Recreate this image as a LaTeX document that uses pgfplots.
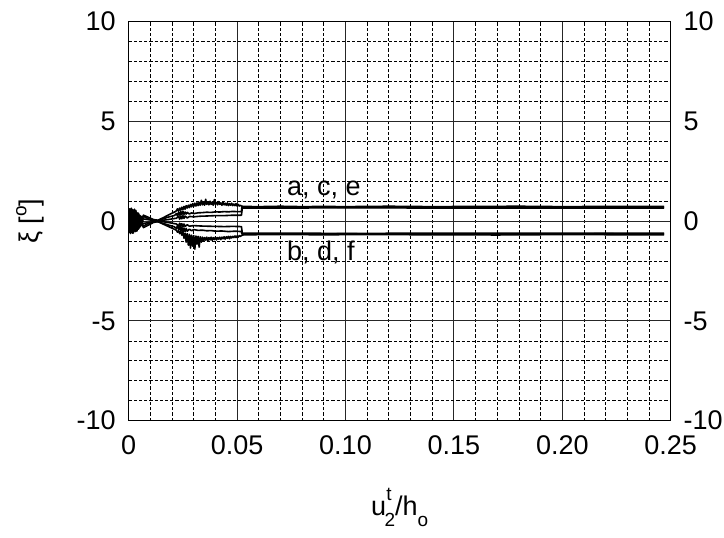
\documentclass[border=0pt]{standalone}
\usepackage{fontspec}
\setmainfont{Liberation Sans}
\usepackage{pgfplots}
\pgfplotsset{compat=1.18}
\begin{document}
\fontsize{13.5}{16}\selectfont
\begin{tikzpicture}
\pgfplotsset{
  common/.style={
    scale only axis, width=271pt, height=199.5pt,
    xmin=0, xmax=0.25, ymin=-10, ymax=10,
    xtick={0,0.05,0.10,0.15,0.20,0.25},
    xticklabels={0,0.05,0.10,0.15,0.20,0.25},
    ytick={-10,-5,0,5,10},
    yticklabels={-10,-5,0,5,10},
    major tick length=0pt, minor tick length=0pt,
    /pgf/number format/assume math mode=true,
    tick label style={font=\fontsize{13.5}{16}\selectfont},
    axis line style={line width=0.7pt},
  },
  dl/.style={black, line width=0.8pt, line join=round},
}
\begin{axis}[common,
  minor xtick={0.01,0.02,0.03,0.04,0.06,0.07,0.08,0.09,0.11,0.12,0.13,0.14,0.16,0.17,0.18,0.19,0.21,0.22,0.23,0.24},
  minor ytick={-9,-8,-7,-6,-4,-3,-2,-1,1,2,3,4,6,7,8,9},
  grid=both,
  major grid style={black!85, line width=0.5pt},
  minor grid style={black, line width=0.4pt, dash pattern=on 1.6pt off 1pt},
  yticklabel style={xshift=-1.8pt},
  xticklabel style={yshift=-2.6pt},
  xlabel={u\raisebox{0.53em}{\fontsize{9.5}{10}\selectfont t}\kern-0.26em\raisebox{-0.42em}{\fontsize{9.5}{10}\selectfont 2}/h\raisebox{-0.42em}{\fontsize{9.5}{10}\selectfont o}},
  ylabel={ξ [\raisebox{0.45em}{\fontsize{9.5}{10}\selectfont o}]},
  xlabel style={at={(axis description cs:0.5,-0.218)}, anchor=center},
  ylabel style={at={(axis description cs:-0.182,0.5)}, anchor=center},
]
\coordinate (ll) at (rel axis cs:0,0);
% initial oscillation
\addplot[dl] coordinates {
(0.0000,0.30)(0.00015,-0.55)(0.0003,0.62)(0.00045,-0.40)(0.0006,0.55)(0.00075,-0.62)(0.0009,0.48)(0.00105,-0.50)(0.0012,0.65)(0.00135,-0.45)(0.0015,0.40)(0.00165,-0.60)(0.0018,0.58)(0.00195,-0.35)(0.0021,0.50)(0.00225,-0.55)(0.0024,0.45)(0.00255,-0.48)(0.0027,0.60)(0.00285,-0.40)(0.0030,0.42)(0.00315,-0.52)(0.0033,0.50)(0.00345,-0.38)(0.0036,0.45)(0.00375,-0.45)(0.0039,0.35)(0.00405,-0.40)(0.0042,0.40)(0.00435,-0.30)(0.0045,0.32)(0.00465,-0.35)(0.0048,0.25)(0.00495,-0.30)(0.0051,0.28)(0.00525,-0.22)(0.0054,0.20)(0.00555,-0.25)(0.0057,0.15)(0.00585,-0.18)(0.0060,0.12)(0.0062,-0.10)(0.0064,0.08)(0.0066,-0.05)
};
% a (upper outer)
\addplot[dl] coordinates {
(0.0000,0.05)(0.0003,0.45)(0.0006,-0.30)(0.0009,0.60)(0.0012,-0.20)(0.0015,0.55)(0.0018,-0.40)(0.0021,0.50)(0.0024,-0.30)(0.0027,0.40)(0.0030,-0.45)(0.0033,0.55)(0.0036,-0.25)(0.0039,0.35)(0.0042,-0.30)(0.0045,0.40)(0.0048,-0.15)(0.0051,0.30)(0.0054,-0.10)(0.0057,0.25)(0.0060,0.05)(0.0068,0.30)(0.0090,0.20)(0.0115,0.08)(0.0135,0.05)(0.0160,0.18)(0.0190,0.35)(0.0215,0.48)
(0.0220,0.52)(0.0225,0.62)(0.0230,0.50)(0.0235,0.66)(0.0240,0.55)(0.0245,0.70)(0.0250,0.58)(0.0255,0.74)(0.0260,0.60)(0.0265,0.78)(0.0270,0.66)(0.0275,0.80)(0.0280,0.68)(0.0285,0.84)(0.0290,0.72)(0.0295,0.88)(0.0300,0.74)(0.0305,0.90)(0.0310,0.76)(0.0315,0.92)(0.0320,0.78)(0.0325,0.95)(0.0330,0.80)(0.0335,1.05)(0.0340,0.82)(0.0345,0.96)(0.0350,0.80)(0.0355,1.10)(0.0360,0.84)(0.0365,0.95)(0.0370,0.82)(0.0375,1.00)(0.0380,0.84)(0.0385,0.96)(0.0390,0.80)(0.0395,1.08)(0.0400,0.85)(0.0405,0.94)(0.0410,0.82)(0.0415,0.98)(0.0420,0.84)(0.0425,0.92)(0.0430,0.80)(0.0435,0.95)(0.0440,0.82)(0.0445,0.90)(0.0450,0.80)(0.0455,0.92)(0.0460,0.78)(0.0465,0.88)(0.0470,0.80)(0.0475,0.90)(0.0480,0.78)(0.0485,0.86)(0.0490,0.78)(0.0495,0.88)(0.0500,0.76)(0.0505,0.84)(0.0510,0.76)(0.0515,0.80)(0.0520,0.76)
(0.0530,0.74)(0.0600,0.73)(0.0700,0.75)(0.0800,0.73)(0.0900,0.74)(0.1000,0.73)(0.1200,0.75)(0.1400,0.73)(0.1600,0.74)(0.1800,0.75)(0.2000,0.73)(0.2200,0.74)(0.2470,0.74)
};
% c (upper mid)
\addplot[dl] coordinates {
(0.0000,-0.05)(0.0004,0.30)(0.0008,-0.45)(0.0012,0.35)(0.0016,-0.30)(0.0020,0.45)(0.0024,-0.50)(0.0028,0.30)(0.0032,-0.35)(0.0036,0.40)(0.0040,-0.40)(0.0044,0.20)(0.0048,-0.30)(0.0052,0.15)(0.0056,-0.20)(0.0060,0.10)(0.0066,-0.25)(0.0090,-0.12)(0.0120,0.00)(0.0150,0.08)(0.0180,0.20)(0.0210,0.28)(0.0220,0.38)(0.0225,0.26)(0.0230,0.45)(0.0235,0.30)(0.0240,0.48)(0.0245,0.32)(0.0250,0.50)(0.0255,0.34)(0.0260,0.46)(0.0265,0.36)(0.0270,0.44)(0.0280,0.36)(0.0290,0.42)(0.0300,0.38)(0.0320,0.42)(0.0340,0.43)(0.0360,0.45)(0.0380,0.44)(0.0400,0.47)(0.0420,0.46)(0.0440,0.48)(0.0460,0.47)(0.0480,0.49)(0.0500,0.48)(0.0520,0.48)(0.0522,0.70)(0.0600,0.70)(0.0800,0.71)(0.1000,0.70)(0.1300,0.70)(0.1600,0.71)(0.2000,0.70)(0.2300,0.70)(0.2470,0.70)
};
% e (upper inner)
\addplot[dl] coordinates {
(0.0002,0.20)(0.0006,-0.55)(0.0010,0.30)(0.0014,-0.35)(0.0018,0.25)(0.0022,-0.40)(0.0026,0.50)(0.0030,-0.20)(0.0034,0.30)(0.0038,-0.50)(0.0042,0.25)(0.0046,-0.35)(0.0050,0.20)(0.0054,-0.25)(0.0058,0.10)(0.0064,0.12)(0.0100,0.06)(0.0140,0.02)(0.0180,0.08)(0.0220,0.15)(0.0230,0.24)(0.0235,0.10)(0.0240,0.26)(0.0245,0.12)(0.0250,0.28)(0.0255,0.14)(0.0260,0.26)(0.0270,0.16)(0.0280,0.24)(0.0300,0.22)(0.0330,0.25)(0.0360,0.26)(0.0400,0.28)(0.0440,0.28)(0.0480,0.30)(0.0520,0.30)(0.0524,0.66)(0.0700,0.66)(0.1000,0.67)(0.1500,0.66)(0.2000,0.66)(0.2470,0.66)
};
% b (lower outer)
\addplot[dl] coordinates {
(0.0000,-0.05)(0.0003,-0.50)(0.0006,0.35)(0.0009,-0.55)(0.0012,0.25)(0.0015,-0.45)(0.0018,0.45)(0.0021,-0.60)(0.0024,0.30)(0.0027,-0.40)(0.0030,0.40)(0.0033,-0.50)(0.0036,0.20)(0.0039,-0.40)(0.0042,0.30)(0.0045,-0.35)(0.0048,0.15)(0.0051,-0.30)(0.0054,0.10)(0.0057,-0.20)(0.0060,-0.05)(0.0068,-0.32)(0.0090,-0.20)(0.0115,-0.06)(0.0135,-0.02)(0.0160,-0.15)(0.0190,-0.30)
(0.0220,-0.45)(0.0225,-0.55)(0.0230,-0.48)(0.0235,-0.62)(0.0240,-0.50)(0.0245,-0.70)(0.0250,-0.55)(0.0255,-0.85)(0.0260,-0.60)(0.0265,-1.05)(0.0270,-0.62)(0.0275,-1.20)(0.0280,-0.66)(0.0285,-1.35)(0.0290,-0.70)(0.0295,-1.25)(0.0300,-0.72)(0.0305,-1.40)(0.0310,-0.74)(0.0315,-1.15)(0.0320,-0.76)(0.0325,-1.30)(0.0330,-0.78)(0.0335,-1.05)(0.0340,-0.80)(0.0345,-1.00)(0.0350,-0.82)(0.0355,-0.95)(0.0360,-0.80)(0.0365,-0.98)(0.0370,-0.82)(0.0375,-0.94)(0.0380,-0.80)(0.0385,-0.96)(0.0390,-0.82)(0.0395,-0.92)(0.0400,-0.80)(0.0405,-0.94)(0.0410,-0.82)(0.0415,-0.90)(0.0420,-0.80)(0.0425,-0.92)(0.0430,-0.80)(0.0435,-0.88)(0.0440,-0.78)(0.0445,-0.90)(0.0450,-0.78)(0.0455,-0.86)(0.0460,-0.76)(0.0465,-0.88)(0.0470,-0.76)(0.0475,-0.84)(0.0480,-0.76)(0.0485,-0.82)(0.0490,-0.74)(0.0495,-0.82)(0.0500,-0.74)(0.0505,-0.80)(0.0510,-0.72)(0.0515,-0.76)(0.0520,-0.72)
(0.0530,-0.68)(0.0700,-0.67)(0.0900,-0.68)(0.1100,-0.67)(0.1400,-0.68)(0.1700,-0.69)(0.2000,-0.67)(0.2300,-0.68)(0.2470,-0.68)
};
% d (lower mid)
\addplot[dl] coordinates {
(0.0001,0.25)(0.0005,-0.40)(0.0009,0.35)(0.0013,-0.50)(0.0017,0.30)(0.0021,-0.35)(0.0025,0.40)(0.0029,-0.45)(0.0033,0.25)(0.0037,-0.30)(0.0041,0.35)(0.0045,-0.40)(0.0049,0.15)(0.0053,-0.25)(0.0057,0.05)(0.0062,-0.15)(0.0066,0.25)(0.0090,0.12)(0.0120,0.02)(0.0150,-0.08)(0.0180,-0.18)(0.0210,-0.28)(0.0220,-0.36)(0.0225,-0.22)(0.0230,-0.42)(0.0235,-0.26)(0.0240,-0.50)(0.0245,-0.30)(0.0250,-0.55)(0.0255,-0.34)(0.0260,-0.52)(0.0265,-0.36)(0.0270,-0.50)(0.0280,-0.40)(0.0290,-0.48)(0.0300,-0.42)(0.0320,-0.46)(0.0340,-0.45)(0.0360,-0.48)(0.0380,-0.47)(0.0400,-0.50)(0.0430,-0.49)(0.0460,-0.52)(0.0490,-0.50)(0.0520,-0.52)(0.0522,-0.64)(0.0700,-0.64)(0.1000,-0.63)(0.1400,-0.64)(0.1800,-0.64)(0.2200,-0.63)(0.2470,-0.64)
};
% f (lower inner)
\addplot[dl] coordinates {
(0.0003,-0.20)(0.0007,0.50)(0.0011,-0.35)(0.0015,0.30)(0.0019,-0.50)(0.0023,0.35)(0.0027,-0.30)(0.0031,0.45)(0.0035,-0.40)(0.0039,0.30)(0.0043,-0.25)(0.0047,0.25)(0.0051,-0.20)(0.0055,0.15)(0.0059,-0.10)(0.0064,-0.12)(0.0100,-0.05)(0.0140,0.00)(0.0180,-0.06)(0.0220,-0.14)(0.0230,-0.24)(0.0235,-0.10)(0.0240,-0.26)(0.0245,-0.12)(0.0250,-0.28)(0.0255,-0.14)(0.0260,-0.26)(0.0270,-0.18)(0.0280,-0.25)(0.0300,-0.22)(0.0330,-0.24)(0.0360,-0.25)(0.0400,-0.26)(0.0440,-0.27)(0.0480,-0.26)(0.0520,-0.27)(0.0524,-0.60)(0.0700,-0.60)(0.1000,-0.61)(0.1500,-0.60)(0.2000,-0.60)(0.2470,-0.60)
};
\node[anchor=base west, inner sep=0pt] at (axis cs:0.0729,1.31) {a, c, e};
\node[anchor=base west, inner sep=0pt] at (axis cs:0.0729,-1.95) {b, d, f};
\end{axis}
\begin{axis}[common,
  axis x line=none, axis y line*=right,
  yticklabel style={xshift=1.8pt},
]
\end{axis}
\pgfresetboundingbox
\path ([shift={(-64.35pt,-58.15pt)}]ll) rectangle ([shift={(297.65pt,210.35pt)}]ll);
\end{tikzpicture}
\end{document}
